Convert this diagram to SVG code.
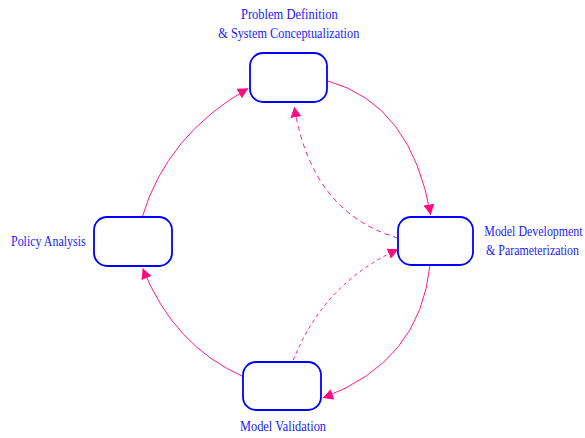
<svg xmlns="http://www.w3.org/2000/svg" width="585" height="438" viewBox="0 0 585 438">
  <style>
    .box { fill: #ffffff; stroke: #0000ff; stroke-width: 1.8; }
    .lbl { font-family: "Liberation Serif", "Times New Roman", serif; font-size: 14px; fill: #1a1aff; }
    .edge { fill: none; stroke: #ff1a8c; stroke-width: 1; }
    .dash1 { stroke-dasharray: 5 4; }
    .dash2 { stroke-dasharray: 3.5 3.5; }
  </style>
  <defs>
    <marker id="arrow" markerUnits="userSpaceOnUse" markerWidth="11" markerHeight="11" refX="10.5" refY="5.5" orient="auto" viewBox="0 0 11 11">
      <path d="M0,0 L10.5,5.5 L0,11 z" fill="#ff0a80"/>
    </marker>
  </defs>
  <rect width="585" height="438" fill="#ffffff"/>
  <g id="connectors">
    <path class="edge" d="M328,81 Q411.4,104.4 430.7,215" marker-end="url(#arrow)"/>
    <path class="edge" d="M430,265 Q420.3,361.8 322.7,398" marker-end="url(#arrow)"/>
    <path class="edge" d="M243.3,376.7 Q173.7,345.8 142.7,268.3" marker-end="url(#arrow)"/>
    <path class="edge" d="M142.3,217 Q166.5,135 248.3,88.3" marker-end="url(#arrow)"/>
    <path class="edge dash1" d="M398,238 Q311.4,212.9 294.3,106.7" marker-end="url(#arrow)"/>
    <path class="edge dash2" d="M293.3,360 Q324.3,282.6 398.3,249.3" marker-end="url(#arrow)"/>
  </g>
  <g id="problem-definition">
    <rect class="box" x="250" y="53" width="77" height="49" rx="13" ry="13"/>
    <text class="lbl" x="241" y="19" textLength="96.7" lengthAdjust="spacingAndGlyphs">Problem Definition</text>
    <text class="lbl" x="218.3" y="37.7" textLength="141" lengthAdjust="spacingAndGlyphs">&amp; System Conceptualization</text>
  </g>
  <g id="model-development">
    <rect class="box" x="398" y="217" width="75" height="48" rx="13" ry="13"/>
    <text class="lbl" transform="translate(484.3,236) scale(0.852,1)" x="0" y="0">Model Development</text>
    <text class="lbl" transform="translate(486,255) scale(0.852,1)" x="0" y="0">&amp; Parameterization</text>
  </g>
  <g id="model-validation">
    <rect class="box" x="243" y="362" width="78" height="48" rx="13" ry="13"/>
    <text class="lbl" x="240" y="431" textLength="86" lengthAdjust="spacingAndGlyphs">Model Validation</text>
  </g>
  <g id="policy-analysis">
    <rect class="box" x="94" y="217" width="78" height="49" rx="13" ry="13"/>
    <text class="lbl" x="11" y="246" textLength="74.7" lengthAdjust="spacingAndGlyphs">Policy Analysis</text>
  </g>
</svg>
